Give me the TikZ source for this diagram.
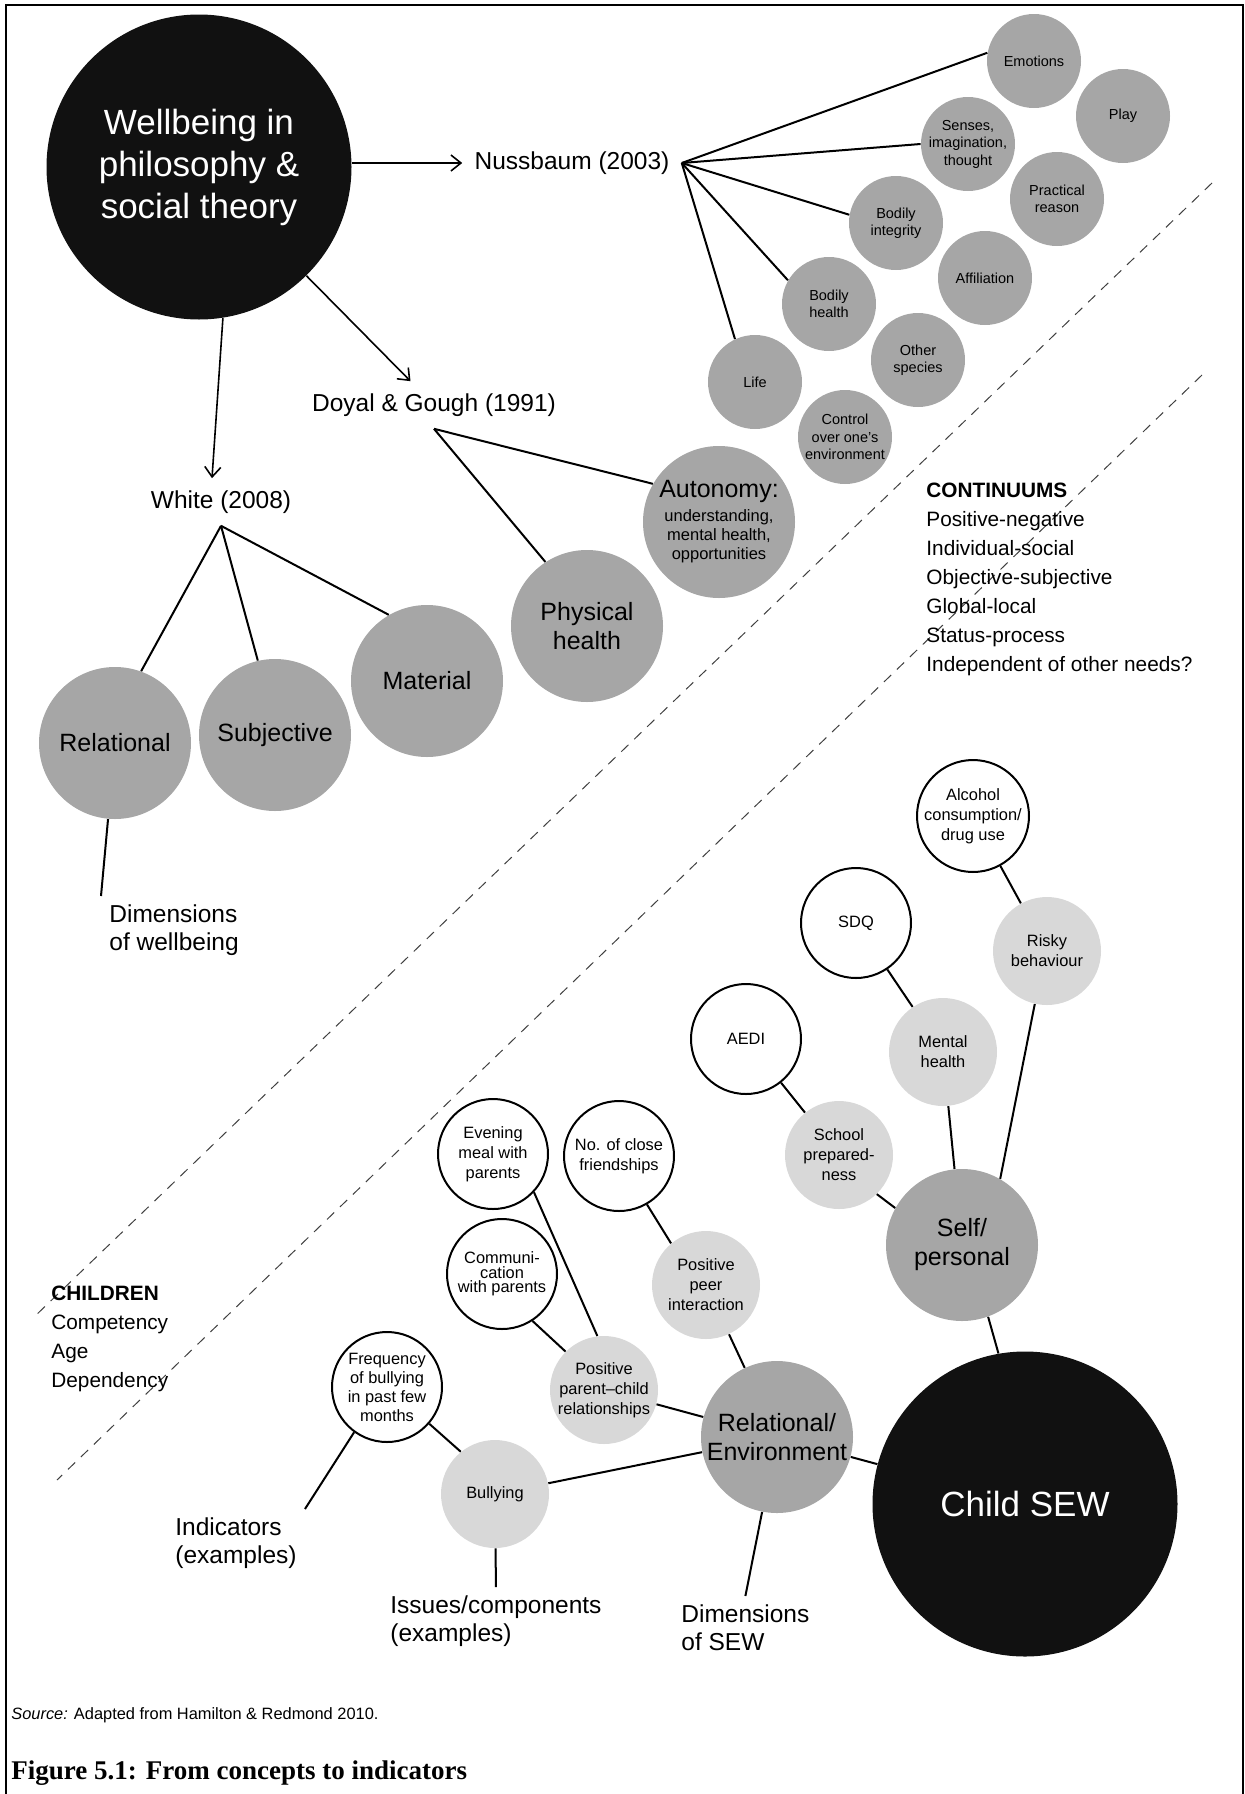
\documentclass[tikz,border=0pt]{standalone}
\usepackage{fontspec}
\setmainfont{Liberation Sans}
\newfontfamily\capfont{Liberation Serif}
\usetikzlibrary{arrows.meta}
\definecolor{darkgr}{RGB}{166,166,166}
\definecolor{lightgr}{RGB}{216,216,216}
\definecolor{nearblack}{RGB}{17,17,17}
\tikzset{
  big/.style={circle, fill=nearblack, text=white, minimum size=152.5pt, inner sep=0pt, align=center, font=\fontsize{17.5}{21}\selectfont},
  dim/.style={circle, fill=darkgr, minimum size=76pt, inner sep=0pt, align=center, font=\fontsize{12.5}{14.5}\selectfont},
  capab/.style={circle, fill=darkgr, minimum size=47pt, inner sep=0pt, align=center, font=\fontsize{7.25}{8.75}\selectfont},
  issue/.style={circle, fill=lightgr, minimum size=54pt, inner sep=0pt, align=center, font=\fontsize{8.2}{10}\selectfont},
  indic/.style={circle, draw, line width=1pt, fill=white, minimum size=55pt, inner sep=0pt, align=center, font=\fontsize{8.2}{10}\selectfont},
  lab/.style={inner sep=4pt, align=left, font=\fontsize{12.25}{14}\selectfont},
  sep/.style={dash pattern=on 5pt off 4pt, line width=0.5pt, black!75},
  link/.style={line width=1pt},
}
\begin{document}
\begin{tikzpicture}[x=0.5pt, y=-0.5pt, >={Straight Barb[length=5pt,width=8pt]}]
  \useasboundingbox (0,0) rectangle (1245,1794);
  \draw[line width=1.25pt] (6,1794) -- (6,5) -- (1243,5) -- (1243,1794);

  % separators
  \draw[sep] (1212,183) -- (33,1318);
  \draw[sep] (1202,375) -- (57,1480);

  % philosophy side
  \node[big] (wb) at (199,167) {Wellbeing in\\philosophy \&\\social theory};
  \node[lab, inner sep=6pt] (nuss) at (572,163) {Nussbaum (2003)};
  \node[lab, inner sep=6pt] (doyal) at (434,405) {Doyal \& Gough (1991)};
  \node[lab, inner sep=6pt] (white) at (221,502) {White (2008)};

  \draw[->, line width=0.8pt] (wb.east |- nuss.west) -- (nuss.west);
  \draw[->, line width=0.8pt] (wb) -- (doyal);
  \draw[->, line width=0.8pt] (wb.-81) -- ([xshift=-4.5pt]white.north);

  \node[capab] (emo) at (1034,61) {Emotions};
  \node[capab] (play) at (1123,116) {Play};
  \node[capab] (sens) at (968,144) {Senses,\\imagination,\\thought};
  \node[capab] (prac) at (1057,199) {Practical\\reason};
  \node[capab] (bint) at (896,223) {Bodily\\integrity};
  \node[capab] (affil) at (985,278) {Affiliation};
  \node[capab] (bhea) at (829,304) {Bodily\\health};
  \node[capab] (other) at (918,360) {Other\\species};
  \node[capab] (life) at (755,382) {Life};
  \node[capab] (ctrl) at (845,437) {Control\\over one's\\environment};

  \foreach \tgt/\ang in {emo/170, sens/180, bint/170, bhea/150, life/115}{
    \draw[link] (nuss.east) -- (\tgt.\ang);
  }

  \node[dim] (phys) at (587,626) {Physical\\health};
  \node[dim, font=\fontsize{8.25}{9.5}\selectfont] (auto) at (719,522)
    {{\fontsize{12.5}{12.5}\selectfont Autonomy:}\\[2.5pt]understanding,\\mental health,\\opportunities};
  \draw[link] (doyal.south) -- (phys.123);
  \draw[link] (doyal.south) -- (auto.150);

  \node[dim] (rel) at (115,743) {Relational};
  \node[dim] (subj) at (275,735) {Subjective};
  \node[dim] (mat) at (427,681) {Material};
  \foreach \tgt/\ang in {rel/70, subj/103, mat/120}{
    \draw[link] (white.south) -- (\tgt.\ang);
  }
  \node[lab, anchor=north west] (dimwb) at (101,896) {Dimensions\\of wellbeing};
  \draw[link] (rel) -- (dimwb.north west);

  \node[anchor=north west, inner sep=0pt, align=left, font=\fontsize{10.4}{14.5}\selectfont] (cont) at (926,483)
    {\textbf{CONTINUUMS}\\Positive-negative\\Individual-social\\Objective-subjective\\Global-local\\Status-process\\Independent of other needs?};
  \node[anchor=north west, inner sep=0pt, align=left, font=\fontsize{10.4}{14.5}\selectfont] (child) at (51,1286)
    {\textbf{CHILDREN}\\Competency\\Age\\Dependency};

  % child side
  \node[big] (sew) at (1025,1504) {Child SEW};
  \node[dim] (self) at (962,1245) {Self/\\personal};
  \node[dim] (relenv) at (777,1437) {Relational/\\Environment};

  \node[issue] (school) at (839,1155) {School\\prepared-\\ness};
  \node[issue] (mental) at (943,1052) {Mental\\health};
  \node[issue] (risky) at (1047,951) {Risky\\behaviour};
  \node[indic] (alc) at (973,816) {Alcohol\\consumption/\\drug use};
  \node[indic] (sdq) at (856,923) {SDQ};
  \node[indic] (aedi) at (746,1039) {AEDI};

  \node[issue] (peer) at (706,1285) {Positive\\peer\\interaction};
  \node[issue] (pc) at (604,1390) {Positive\\parent--child\\relationships};
  \node[issue] (bul) at (495,1494) {Bullying};
  \node[indic] (even) at (493,1154) {Evening\\meal with\\parents};
  \node[indic] (close) at (619,1156) {No. of close\\friendships};
  \node[indic, font=\fontsize{8.2}{7.3}\selectfont] (comm) at (502,1274) {Communi-\\cation\\with parents};
  \node[indic, font=\fontsize{8.2}{9.5}\selectfont] (freq) at (387,1387) {Frequency\\of bullying\\in past few\\months};

  \node[lab, anchor=north west] (ind) at (167,1509) {Indicators\\(examples)};
  \node[lab, anchor=north west] (iss) at (382,1587) {Issues/components\\(examples)};
  \node[lab, anchor=north west] (dimsew) at (673,1596) {Dimensions\\of SEW};

  \draw[link] (self.-70) -- (sew.100);
  \draw[link] (relenv) -- (sew);
  \draw[link] (self.151) -- (school.-46);
  \draw[link] (self) -- (mental);
  \draw[link] (self.60) -- (risky.-103);
  \draw[link] (risky) -- (alc);
  \draw[link] (mental) -- (sdq);
  \draw[link] (school) -- (aedi);
  \draw[link] (relenv) -- (peer);
  \draw[link] (relenv) -- (pc);
  \draw[link] (relenv) -- (bul);
  \draw[link] (relenv) -- (dimsew.north);
  \draw[link] (peer.130) -- (close.-60);
  \draw[link] (pc.97) -- (even.-43);
  \draw[link] (pc.135) -- (comm.-57);
  \draw[link] (bul.129) -- (freq.-41);
  \draw[link] (freq.-126) -- (ind.north east);
  \draw[link] (bul) -- (iss.north);

  % source and caption
  \node[anchor=west, inner sep=0pt, font=\fontsize{8.2}{10}\selectfont] (src) at (11,1715)
    {\textit{Source:} Adapted from Hamilton \& Redmond 2010.};
  \node[anchor=west, inner sep=0pt, font=\capfont\bfseries\fontsize{13.5}{16}\selectfont] (fig) at (11,1773)
    {Figure 5.1: From concepts to indicators};
\end{tikzpicture}
\end{document}
